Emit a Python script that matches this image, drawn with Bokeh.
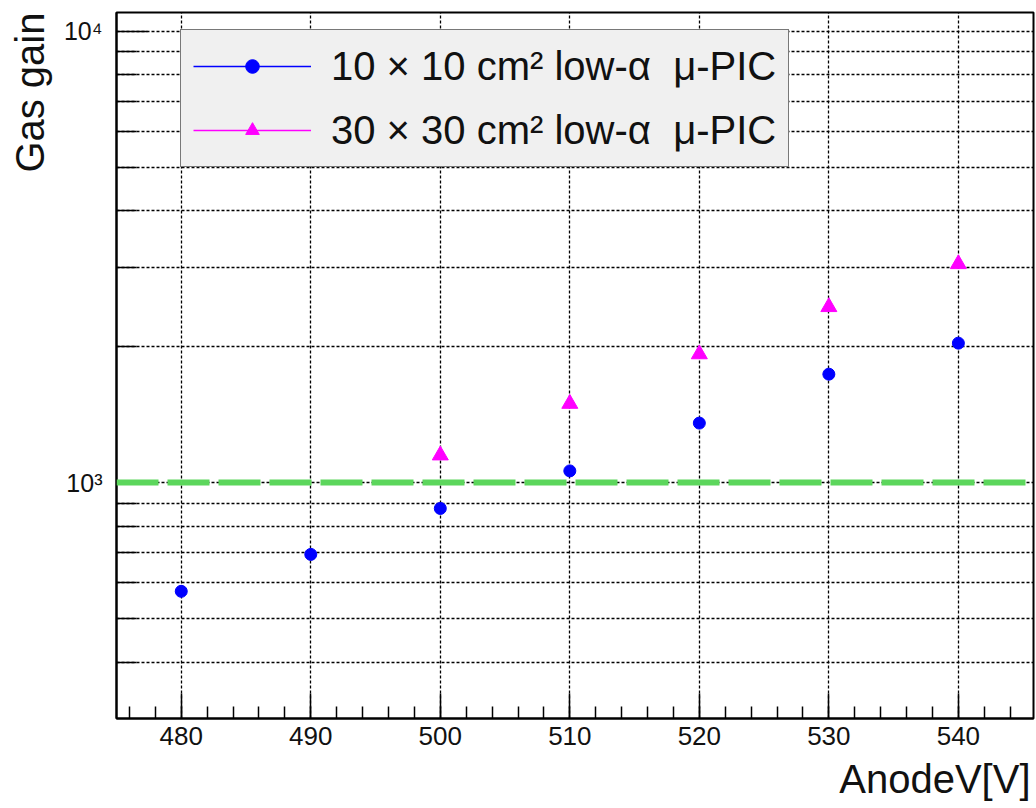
from bokeh.plotting import figure
from bokeh.models import (Range1d, FixedTicker, SingleIntervalTicker, Span, Legend,
                          LegendItem, Title, ColumnDataSource)
from bokeh.embed import file_html
from bokeh.resources import INLINE

# ---- data ----
voltage_10 = [480, 490, 500, 510, 520, 530, 540]
gain_10 = [574, 693, 876, 1061, 1354, 1738, 2036]
voltage_30 = [500, 510, 520, 530, 540]
gain_30 = [1149, 1495, 1925, 2449, 3049]
reference_gain = 1000
legend_labels = ["10 \u00d7 10 cm\u00b2 low-\u03b1  \u03bc-PIC", "30 \u00d7 30 cm\u00b2 low-\u03b1  \u03bc-PIC"]
y_major_ticks = [1000, 10000]
y_minor_ticks = [400, 500, 600, 700, 800, 900, 2000, 3000, 4000, 5000, 6000, 7000, 8000, 9000]
y_tick_labels = {1000: "10\u00b3", 10000: "10\u2074"}
x_label = "AnodeV[V]"
y_label = "Gas gain"

FONT = "Liberation Sans"
NAN = float("nan")

p = figure(width=1036, height=808, y_axis_type="log",
           x_range=Range1d(475, 545.8), y_range=Range1d(300, 11000),
           output_backend="svg", toolbar_location=None,
           min_border_left=116, min_border_right=3, min_border_top=12, min_border_bottom=90)
p.title = None
p.background_fill_color = "white"
p.border_fill_color = "white"
p.outline_line_color = "black"
p.outline_line_width = 2

# axes
p.xaxis.ticker = SingleIntervalTicker(interval=10, num_minor_ticks=5)
p.yaxis.ticker = FixedTicker(ticks=y_major_ticks, minor_ticks=y_minor_ticks)
p.yaxis.major_label_overrides = y_tick_labels
for ax in (p.xaxis[0], p.yaxis[0]):
    ax.axis_line_color = "black"
    ax.axis_line_width = 2
    ax.major_tick_line_color = "black"
    ax.minor_tick_line_color = "black"
    ax.major_tick_line_width = 1.5
    ax.minor_tick_line_width = 1.5
    ax.major_tick_out = 0
    ax.minor_tick_out = 0
    ax.major_label_text_font = FONT
    ax.major_label_text_color = "#111111"
p.xaxis.major_tick_in = 25
p.xaxis.minor_tick_in = 12
p.xaxis.major_label_text_font_size = "26px"
p.xaxis.major_label_standoff = 8
p.yaxis.major_tick_in = 31
p.yaxis.minor_tick_in = 20
p.yaxis.major_label_text_font_size = "25px"
p.yaxis.major_label_standoff = 14

# grid
for g in (p.xgrid[0], p.ygrid[0]):
    g.grid_line_color = "black"
    g.grid_line_dash = "3 2"
    g.grid_line_width = 1.3
p.ygrid.minor_grid_line_color = "black"
p.ygrid.minor_grid_line_dash = "3 2"
p.ygrid.minor_grid_line_width = 1.3

# reference line
span = Span(location=reference_gain, dimension="width", line_color="#5cd65c",
            line_width=6, line_dash="42 9")
p.add_layout(span)

# data
src10 = ColumnDataSource(dict(x=voltage_10, y=gain_10))
src30 = ColumnDataSource(dict(x=voltage_30, y=gain_30))
s10 = p.scatter("x", "y", source=src10, marker="circle", size=12,
                fill_color="#0000ff", line_color="#0000ff")
s30 = p.scatter("x", "y", source=src30, marker="triangle", size=16,
                fill_color="#ff00ff", line_color="#ff00ff")
# line renderers used only for the legend glyph (no visible data)
l10 = p.line(x=[NAN], y=[NAN], line_color="#0000ff", line_width=1.5)
l30 = p.line(x=[NAN], y=[NAN], line_color="#ff00ff", line_width=1.5)

legend = Legend(items=[LegendItem(label=legend_labels[0], renderers=[l10, s10]),
                       LegendItem(label=legend_labels[1], renderers=[l30, s30])],
                location=(64, 551))
legend.label_text_font = FONT
legend.label_text_font_size = "40px"
legend.label_text_color = "#111111"
legend.label_height = 48
legend.glyph_height = 34
legend.glyph_width = 118
legend.label_standoff = 20
legend.spacing = 16
legend.padding = 12
legend.background_fill_color = "#f0f0f0"
legend.background_fill_alpha = 1
legend.border_line_color = "black"
legend.border_line_width = 1.5
p.add_layout(legend)

# axis titles (ROOT style, aligned to the end of the axis)
xt = Title(text=x_label, align="right", text_font=FONT, text_font_size="40px",
           text_font_style="normal", text_color="#111111", standoff=15, offset=3)
p.add_layout(xt, "below")
yt = Title(text=y_label, align="right", vertical_align="top", text_font=FONT,
           text_font_size="40px", text_font_style="normal", text_color="#111111",
           standoff=14, offset=0)
p.add_layout(yt, "left")

open("out.html", "w").write(file_html(p, INLINE))
